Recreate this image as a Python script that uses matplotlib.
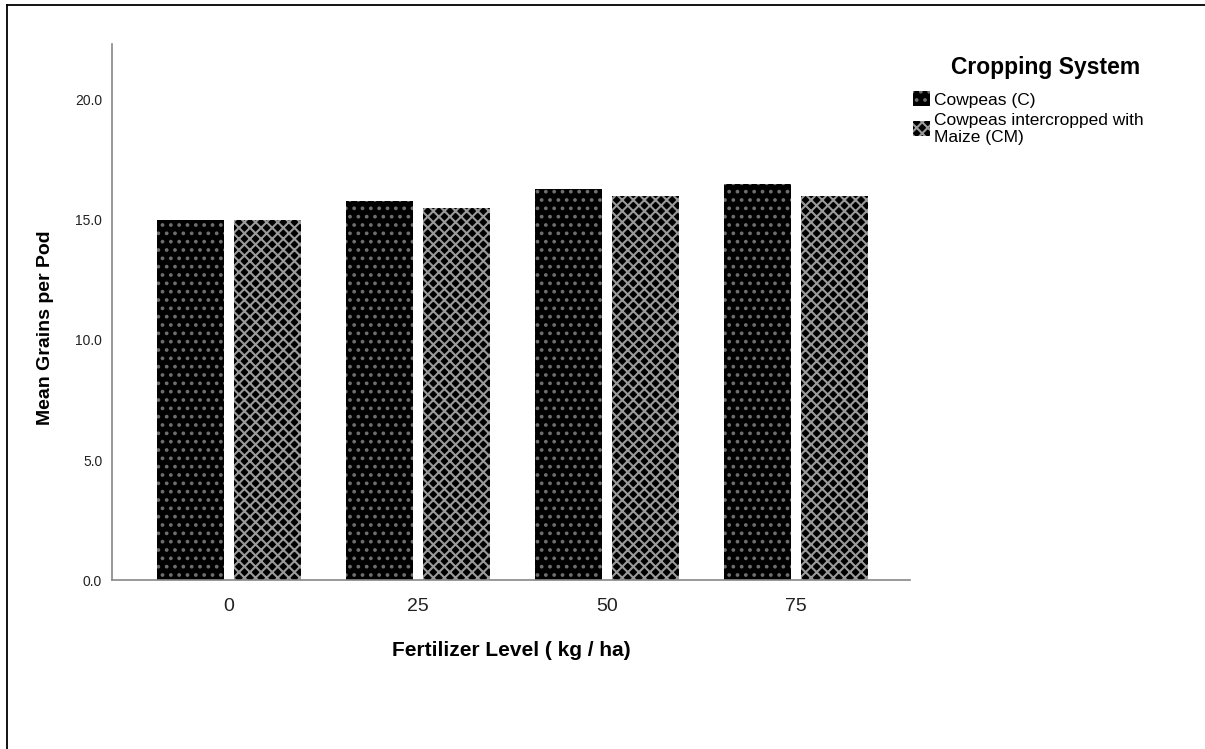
import numpy as np
import matplotlib
matplotlib.use('Agg')
import matplotlib.pyplot as plt
from matplotlib.lines import Line2D

plt.rcParams['font.family'] = ['Liberation Sans', 'DejaVu Sans']
plt.rcParams['hatch.linewidth'] = 1.5

# data
levels = ['0', '25', '50', '75']
series = ['Cowpeas (C)', 'Cowpeas intercropped with\nMaize (CM)']
cowpeas = [15.0, 15.8, 16.3, 16.5]
intercrop = [15.0, 15.5, 16.0, 16.0]
yticks = [0.0, 5.0, 10.0, 15.0, 20.0]

fig = plt.figure(figsize=(12.05, 7.49), dpi=100)
ax = fig.add_axes([0.0929, 0.2256, 0.6622, 0.7156])

x = np.arange(len(levels))
w = 0.354
off = 0.204
b1 = ax.bar(x - off, cowpeas, width=w, color='black', edgecolor='#6e6e6e',
            linewidth=0, hatch='..', label=series[0])
b2 = ax.bar(x + off, intercrop, width=w, color='black', edgecolor='#9a9a9a',
            linewidth=0, hatch='xxx', label=series[1])

ax.set_xlim(-0.619, 3.603)
ax.set_ylim(0, 22.33)
ax.set_xticks(x)
ax.set_xticklabels(levels, fontsize=14, color='#222222')
ax.set_yticks(yticks)
ax.set_yticklabels([f'{v:.1f}' for v in yticks], fontsize=10, color='#222222')
ax.tick_params(length=0, pad=7)
ax.tick_params(axis='x', pad=13)
for s in ['top', 'right']:
    ax.spines[s].set_visible(False)
for s in ['left', 'bottom']:
    ax.spines[s].set_color('#888888')
    ax.spines[s].set_linewidth(1.2)

ax.set_xlabel('Fertilizer Level ( kg / ha)', fontsize=15, fontweight='bold',
              labelpad=19)
ax.set_ylabel('Mean Grains per Pod', fontsize=14, fontweight='bold')
ax.yaxis.set_label_coords(-0.072, 0.47)

leg = fig.legend(handles=[b1, b2], labels=series, loc='upper left',
                 bbox_to_anchor=(0.752, 0.888), frameon=False, fontsize=12.5,
                 handlelength=1.0, handleheight=1.0, handletextpad=0.2,
                 labelspacing=0.3, borderaxespad=0)
for t in leg.get_texts():
    t.set_linespacing(1.15)
fig.text(0.868, 0.910, 'Cropping System', ha='center', va='center',
         fontsize=16.5, fontweight='bold')

# partial frame around the image
fig.add_artist(Line2D([0.006, 0.006], [0.0, 0.993], color='black', lw=1.3,
                      transform=fig.transFigure))
fig.add_artist(Line2D([0.006, 1.0], [0.993, 0.993], color='black', lw=1.3,
                      transform=fig.transFigure))

fig.savefig('out.png', dpi=100)
